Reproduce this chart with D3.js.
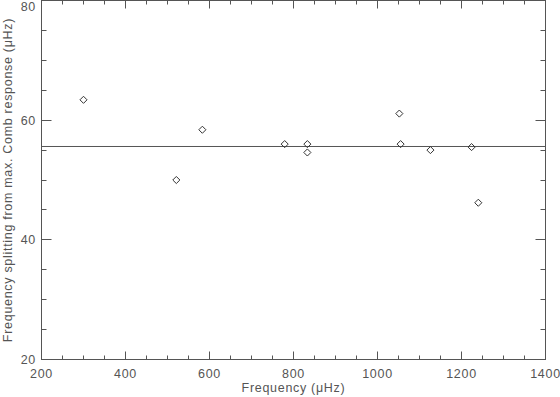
<!DOCTYPE html>
<html><head><meta charset="utf-8">
<script src="https://cdn.jsdelivr.net/npm/d3@7"></script>
<style>body{margin:0;background:#fff}svg{display:block}text{font-family:"Liberation Sans",Arial,sans-serif;fill:#555;letter-spacing:0.7px}</style>
</head><body>
<svg id="c" width="560" height="397"></svg>
<script>
const freq = [300, 521, 583, 779, 833, 833, 1052, 1055, 1126, 1224, 1240];
const splitting = [63.4, 50.0, 58.4, 56.0, 56.0, 54.6, 61.1, 56.0, 55.0, 55.5, 46.2];
const meanSplitting = [55.6];
const xTicks = [200, 400, 600, 800, 1000, 1200, 1400];
const yTicks = [20, 40, 60, 80];
const xLabel = "Frequency (\u03BCHz)";
const yLabel = "Frequency splitting from max. Comb response (\u03BCHz)";

const svg = d3.select("#c");
const L = 41.5, R = 545.5, T = 0.5, B = 359.5;
const x = d3.scaleLinear().domain([200, 1400]).range([L, R]);
const y = d3.scaleLinear().domain([20, 80]).range([B, T]);
const col = "#555";

svg.append("rect").attr("x", L).attr("y", T).attr("width", R - L).attr("height", B - T)
  .attr("fill", "none").attr("stroke", col).attr("stroke-width", 1);

const xMinor = d3.range(200, 1401, 50);
const yMinor = d3.range(20, 81, 5);
const g = svg.append("g").attr("stroke", col).attr("stroke-width", 1);
xMinor.forEach(v => {
  const major = v % 200 === 0; const len = major ? 8 : 4;
  const px = Math.round(x(v) - 0.5) + 0.5;
  g.append("line").attr("x1", px).attr("x2", px).attr("y1", B).attr("y2", B - len);
  g.append("line").attr("x1", px).attr("x2", px).attr("y1", T).attr("y2", T + len);
});
yMinor.forEach(v => {
  const major = v % 20 === 0; const len = major ? 10 : 5;
  const py = Math.round(y(v) - 0.5) + 0.5;
  g.append("line").attr("y1", py).attr("y2", py).attr("x1", L).attr("x2", L + len);
  g.append("line").attr("y1", py).attr("y2", py).attr("x1", R).attr("x2", R - len);
});

svg.selectAll(".xt").data(xTicks).enter().append("text")
  .attr("x", d => x(d)).attr("y", 378).attr("text-anchor", "middle")
  .attr("font-size", 12.5).text(d => d);
svg.selectAll(".yt").data(yTicks).enter().append("text")
  .attr("x", 36).attr("y", d => Math.max(y(d) + 4.5, 10.5)).attr("text-anchor", "end")
  .attr("font-size", 12.5).text(d => d);

svg.append("text").attr("x", (L + R) / 2).attr("y", 392).attr("text-anchor", "middle")
  .attr("font-size", 12.5).text(xLabel);
svg.append("text").attr("transform", `translate(12,${(T + B) / 2}) rotate(-90)`)
  .attr("text-anchor", "middle").attr("font-size", 12.5).text(yLabel);

svg.append("line").attr("x1", L).attr("x2", R)
  .attr("y1", y(meanSplitting[0])).attr("y2", y(meanSplitting[0]))
  .attr("stroke", col).attr("stroke-width", 1);

const sym = d3.symbol().type(d3.symbolDiamond2).size(32);
svg.selectAll(".pt").data(freq).enter().append("path")
  .attr("d", sym)
  .attr("transform", (d, i) => `translate(${x(d)},${y(splitting[i])})`)
  .attr("fill", "none").attr("stroke", "#333").attr("stroke-width", 1);
</script>
</body></html>
